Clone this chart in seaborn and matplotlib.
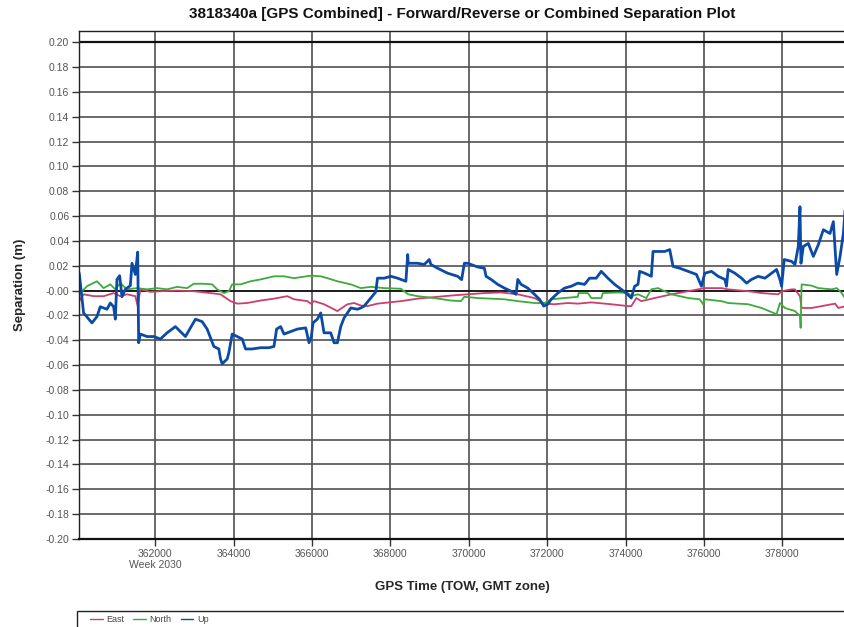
import numpy as np
import pandas as pd
import matplotlib
matplotlib.use("Agg")
import matplotlib.pyplot as plt
import seaborn as sns
from matplotlib.patches import Rectangle
from matplotlib.lines import Line2D

# --- Data (GPS time of week, separation in metres) ---
up_t = [360056, 360167, 360380, 360508, 360593, 360764, 360849, 360934, 360977, 361019,
        361087, 361147, 361232, 361360, 361403, 361488, 361548, 361573, 361616, 361787,
        361957, 362128, 362298, 362511, 362639, 362767, 362895, 363023, 363193, 363321,
        363492, 363619, 363662, 363705, 363833, 363875, 363960, 364088, 364216, 364301,
        364472, 364685, 364898, 365026, 365094, 365197, 365282, 365452, 365623, 365836,
        365921, 365981, 366023, 366134, 366220, 366305, 366475, 366561, 366646, 366731,
        366816, 366902, 366987, 367157, 367243, 367328, 367499, 367626, 367669, 367840,
        368010, 368181, 368394, 368440, 368453, 368522, 368692, 368863, 368990, 369033,
        369204, 369459, 369715, 369817, 369886, 369971, 370227, 370397, 370440, 370568,
        370738, 370909, 371079, 371207, 371250, 371335, 371505, 371676, 371804, 371914,
        372017, 372102, 372273, 372443, 372614, 372784, 372955, 373082, 373253, 373381,
        373551, 373722, 373892, 374020, 374148, 374233, 374318, 374361, 374489, 374659,
        374702, 374830, 375000, 375128, 375213, 375384, 375597, 375810, 375938, 376023,
        376194, 376364, 376535, 376577, 376620, 376791, 376961, 377089, 377217, 377387,
        377558, 377728, 377856, 377941, 377984, 378052, 378240, 378325, 378410, 378453,
        378478, 378538, 378666, 378794, 378922, 379050, 379220, 379305, 379391, 379476,
        379561, 379621]
up_v = [0.014, -0.018, -0.026, -0.021, -0.013, -0.015, -0.010, -0.013, -0.023, 0.009,
        0.012, -0.005, 0.001, 0.004, 0.022, 0.013, 0.031, -0.042, -0.035, -0.037,
        -0.037, -0.039, -0.034, -0.029, -0.033, -0.037, -0.030, -0.023, -0.025, -0.031,
        -0.045, -0.047, -0.055, -0.059, -0.055, -0.050, -0.035, -0.037, -0.039, -0.047,
        -0.047, -0.046, -0.046, -0.045, -0.031, -0.029, -0.035, -0.033, -0.031, -0.030,
        -0.042, -0.037, -0.026, -0.023, -0.018, -0.034, -0.034, -0.042, -0.042, -0.029,
        -0.022, -0.018, -0.014, -0.015, -0.014, -0.0125, -0.006, -0.001, 0.010, 0.010,
        0.0115, 0.010, 0.0075, 0.029, 0.022, 0.022, 0.022, 0.021, 0.025, 0.021,
        0.018, 0.014, 0.0115, 0.0088, 0.022, 0.022, 0.019, 0.018, 0.0115, 0.009,
        0.005, 0.002, -0.0005, -0.003, 0.009, 0.005, 0.002, -0.003, -0.007, -0.0125,
        -0.011, -0.007, -0.002, 0.002, 0.0035, 0.006, 0.005, 0.010, 0.010, 0.0155,
        0.010, 0.005, 0.001, -0.002, -0.006, 0.0035, 0.005, 0.0155, 0.014, 0.0115,
        0.0315, 0.0315, 0.0315, 0.033, 0.0195, 0.018, 0.0155, 0.013, 0.0035, 0.014,
        0.0155, 0.0115, 0.009, 0.0035, 0.017, 0.014, 0.010, 0.006, 0.009, 0.0115,
        0.010, 0.014, 0.017, 0.009, 0.0035, 0.025, 0.0235, 0.021, 0.0355, 0.0675,
        0.022, 0.0355, 0.038, 0.0275, 0.037, 0.049, 0.046, 0.0555, 0.013, 0.0275,
        0.046, 0.073]

north_t = [360056, 360252, 360508, 360678, 360849, 360977, 361105, 361275, 361531, 361787,
           362042, 362298, 362554, 362810, 362980, 363236, 363449, 363577, 363747, 363875,
           363960, 364174, 364429, 364685, 365026, 365282, 365538, 365964, 366220, 366390,
           366646, 366987, 367243, 367499, 367840, 368266, 368453, 368692, 369118, 369545,
           369800, 369886, 370227, 370568, 370909, 371250, 371676, 371932, 372102, 372443,
           372784, 372801, 373040, 373125, 373381, 373423, 373807, 374063, 374148, 374318,
           374531, 374659, 374830, 375171, 375597, 375895, 375981, 376023, 376450, 376620,
           377132, 377472, 377856, 377941, 378069, 378325, 378453, 378470, 378495, 378751,
           378922, 379263, 379391, 379519, 379621]
north_v = [-0.003, 0.0035, 0.0075, 0.002, 0.005, 0.001, 0.006, 0.001, 0.002, 0.001,
           0.002, 0.001, 0.003, 0.002, 0.0055, 0.0055, 0.005, 0.001, -0.002, -0.0005,
           0.005, 0.005, 0.0075, 0.009, 0.0115, 0.0115, 0.010, 0.012, 0.0115, 0.010,
           0.0075, 0.005, 0.002, 0.003, 0.002, 0.0015, -0.003, -0.0045, -0.006, -0.008,
           -0.0085, -0.005, -0.006, -0.0065, -0.007, -0.0085, -0.010, -0.010, -0.007, -0.006,
           -0.005, -0.002, -0.002, -0.006, -0.006, -0.002, -0.0015, -0.002, -0.0045, -0.003,
           -0.006, 0.001, 0.002, -0.003, -0.006, -0.007, -0.011, -0.007, -0.0085, -0.010,
           -0.011, -0.014, -0.019, -0.010, -0.014, -0.0165, -0.0205, -0.030, 0.005, 0.004,
           0.002, 0.001, 0.002, -0.002, -0.007]

east_t = [360056, 360167, 360423, 360678, 360934, 361105, 361275, 361488, 361548, 361616,
          361872, 362128, 362554, 362980, 363406, 363662, 363918, 364088, 364344, 364685,
          365026, 365367, 365538, 365879, 365964, 366049, 366305, 366646, 366902, 367072,
          367243, 367413, 367669, 368266, 368692, 369545, 370397, 370823, 371250, 371676,
          371932, 372187, 372528, 372784, 373125, 373637, 374063, 374148, 374276, 374404,
          374745, 375171, 375597, 376023, 376450, 376620, 377132, 377472, 377899, 377984,
          378240, 378325, 378453, 378495, 378751, 379007, 379348, 379433, 379621]
east_v = [-0.0085, -0.003, -0.0045, -0.0045, -0.002, -0.0045, -0.003, -0.0045, -0.0125, 0.001,
          -0.001, -0.0005, 0.000, -0.0005, -0.002, -0.003, -0.0085, -0.0105, -0.010, -0.008,
          -0.0065, -0.0045, -0.007, -0.0085, -0.0105, -0.0085, -0.011, -0.0165, -0.011, -0.010,
          -0.012, -0.0125, -0.0105, -0.0085, -0.0065, -0.004, -0.002, -0.0015, -0.003, -0.006,
          -0.0105, -0.011, -0.010, -0.0105, -0.0095, -0.011, -0.0125, -0.0125, -0.006, -0.0085,
          -0.006, -0.003, -0.0005, 0.002, 0.002, 0.001, -0.0005, -0.002, -0.003, -0.0005,
          0.001, 0.001, -0.0045, -0.014, -0.014, -0.0125, -0.0105, -0.014, -0.0125]

x_ticks = [362000, 364000, 366000, 368000, 370000, 372000, 374000, 376000, 378000]
x_tick_labels = ["362000\nWeek 2030", "364000", "366000", "368000", "370000",
                 "372000", "374000", "376000", "378000"]
y_ticks = [0.20, 0.18, 0.16, 0.14, 0.12, 0.10, 0.08, 0.06, 0.04, 0.02, 0.00,
           -0.02, -0.04, -0.06, -0.08, -0.10, -0.12, -0.14, -0.16, -0.18, -0.20]
y_tick_labels = ["0.20", "0.18", "0.16", "0.14", "0.12", "0.10", "0.08", "0.06", "0.04",
                 "0.02", "-0.00", "-0.02", "-0.04", "-0.06", "-0.08", "-0.10", "-0.12",
                 "-0.14", "-0.16", "-0.18", "-0.20"]

COLORS = {"East": "#cc3f6b", "North": "#3cab3c", "Up": "#0b4aa6"}

sns.set_theme(style="white")
plt.rcParams.update({
    "font.family": ["Liberation Sans", "DejaVu Sans"],
})

frames = [
    pd.DataFrame({"t": east_t, "sep": east_v, "comp": "East"}),
    pd.DataFrame({"t": north_t, "sep": north_v, "comp": "North"}),
    pd.DataFrame({"t": up_t, "sep": up_v, "comp": "Up"}),
]
df = pd.concat(frames, ignore_index=True)

fig = plt.figure(figsize=(8.44, 6.27), dpi=100)
ax = fig.add_axes([79 / 844, 1 - 539 / 627, 1 - 79 / 844 + 0.002, (539 - 31) / 627])

widths = {"East": 1.3, "North": 1.3, "Up": 2.0}
for comp in ["East", "North", "Up"]:
    sub = df[df["comp"] == comp]
    sns.lineplot(data=sub, x="t", y="sep", ax=ax, color=COLORS[comp], linewidth=widths[comp],
                 estimator=None, sort=False, legend=False)

ax.set_xlim(360050, 379620)
ax.set_ylim(-0.20, 0.209)
ax.set_xticks(x_ticks)
ax.set_xticklabels(x_tick_labels)
ax.set_yticks(y_ticks)
ax.set_yticklabels(y_tick_labels)
ax.tick_params(axis="both", direction="out", length=5, width=1, color="#333333",
               labelsize=7.5, labelcolor="#555555", pad=2, left=True, bottom=True)

ax.grid(True, color="#505050", lw=1.2)
ax.set_axisbelow(True)
for s in ["left", "top"]:
    ax.spines[s].set_color("#222222")
    ax.spines[s].set_linewidth(1.0)
ax.spines["bottom"].set_color("#111111")
ax.spines["bottom"].set_linewidth(1.6)
ax.spines["right"].set_visible(False)
ax.axhline(0.20, color="#111111", lw=1.6, zorder=1)
ax.axhline(0.0, color="#111111", lw=1.2, zorder=1)

ax.set_xlabel("GPS Time (TOW, GMT zone)", fontsize=9.5, fontweight="bold", labelpad=8)
ax.set_ylabel("Separation (m)", fontsize=9.5, fontweight="bold", labelpad=14)
fig.text(0.548, 0.978, "3818340a [GPS Combined] - Forward/Reverse or Combined Separation Plot",
         ha="center", va="center", fontsize=11, fontweight="bold", color="#111111")

# legend strip at the bottom
fig.patches.append(Rectangle((77 / 844, -0.02), 1, 0.045, transform=fig.transFigure,
                             fill=False, edgecolor="#222222", lw=1.0))
handles = [Line2D([], [], color=COLORS[c], lw=1.0) for c in ["East", "North", "Up"]]
fig.legend(handles, ["East", "North", "Up"], loc="center left",
           bbox_to_anchor=(82 / 844, 1 - 620 / 627),
           ncol=3, frameon=False, fontsize=6.5, handlelength=1.4, handletextpad=0.4,
           columnspacing=1.0, labelcolor="#444444")

fig.savefig("out.png", dpi=100)
